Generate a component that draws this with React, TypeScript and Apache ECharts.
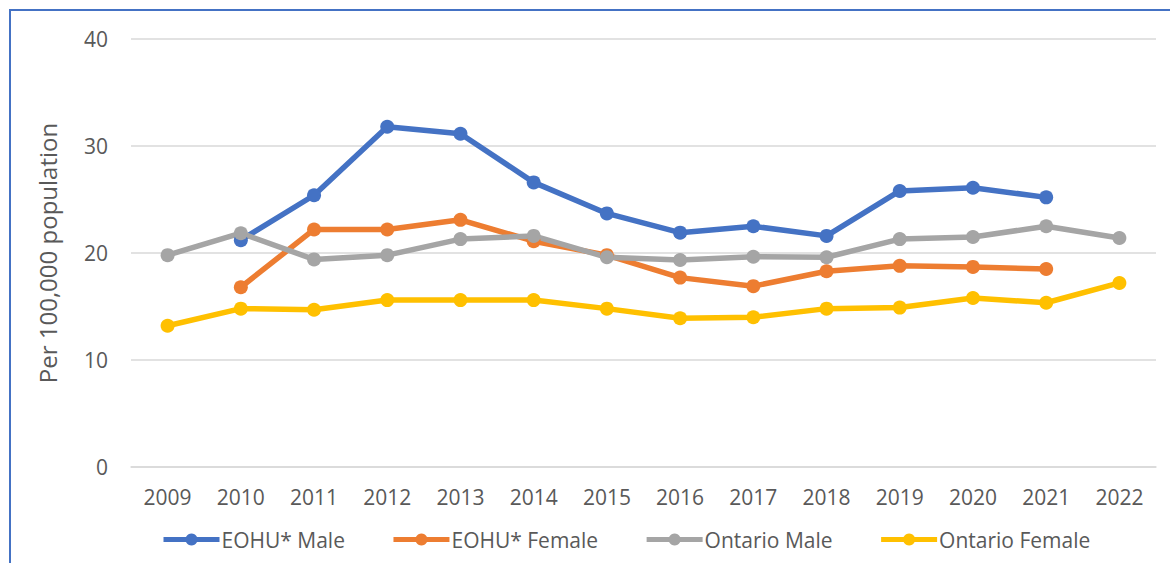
import React, { useEffect, useRef } from "react";
import * as echarts from "echarts";

const years = ["2009","2010","2011","2012","2013","2014","2015","2016","2017","2018","2019","2020","2021","2022"];
const eohuMale = [null, 21.2, 25.4, 31.8, 31.15, 26.6, 23.7, 21.9, 22.5, 21.6, 25.8, 26.1, 25.2, null];
const eohuFemale = [null, 16.8, 22.2, 22.2, 23.1, 21.1, 19.8, 17.7, 16.9, 18.3, 18.8, 18.7, 18.5, null];
const ontarioMale = [19.8, 21.85, 19.4, 19.8, 21.3, 21.6, 19.6, 19.35, 19.65, 19.6, 21.3, 21.5, 22.5, 21.4];
const ontarioFemale = [13.2, 14.8, 14.7, 15.6, 15.6, 15.6, 14.8, 13.9, 14.0, 14.8, 14.9, 15.8, 15.35, 17.2];
const seriesNames = ["EOHU* Male", "EOHU* Female", "Ontario Male", "Ontario Female"];
const colors = ["#4472C4", "#ED7D31", "#A5A5A5", "#FFC000"];
const yTicks = [0, 10, 20, 30, 40];

const FONT = "'Open Sans', sans-serif";

export default function App() {
  const ref = useRef<HTMLDivElement>(null);
  useEffect(() => {
    document.body.style.margin = "0";
    if (!ref.current) return;
    const chart = echarts.init(ref.current, null, { renderer: "svg" });
    const data = [eohuMale, eohuFemale, ontarioMale, ontarioFemale];
    chart.setOption({
      animation: false,
      backgroundColor: "#ffffff",
      color: colors,
      graphic: [
        {
          type: "rect",
          shape: { x: 10, y: 10, width: 1180, height: 580 },
          style: { fill: "none", stroke: "#4472C4", lineWidth: 2 },
          silent: true,
        },
      ],
      grid: { left: 131, right: 14, top: 39, bottom: 96, containLabel: false },
      legend: {
        left: 156,
        top: 524,
        itemWidth: 56,
        itemHeight: 15,
        itemGap: 46,
        data: seriesNames,
        lineStyle: { width: 5 },
        textStyle: { fontFamily: FONT, fontSize: 21, color: "#595959", padding: [0, 0, 0, -3] },
      },
      xAxis: {
        type: "category",
        data: years,
        boundaryGap: true,
        axisLine: { show: true, lineStyle: { color: "#D9D9D9", width: 1.5 } },
        axisTick: { show: false },
        axisLabel: { fontFamily: FONT, fontSize: 21, color: "#595959", margin: 19 },
      },
      yAxis: {
        type: "value",
        min: yTicks[0],
        max: yTicks[yTicks.length - 1],
        interval: 10,
        name: "Per 100,000 population",
        nameLocation: "middle",
        nameGap: 72,
        nameRotate: 90,
        nameTextStyle: { fontFamily: FONT, fontSize: 24, color: "#595959" },
        axisLine: { show: false },
        axisTick: { show: false },
        axisLabel: { fontFamily: FONT, fontSize: 21, color: "#595959", margin: 23 },
        splitLine: { lineStyle: { color: "#D9D9D9", width: 1.5 } },
      },
      series: seriesNames.map((name, i) => ({
        name,
        type: "line",
        data: data[i],
        symbol: "circle",
        symbolSize: 14,
        lineStyle: { width: 5.5, color: colors[i] },
        itemStyle: { color: colors[i] },
        connectNulls: false,
      })),
    });
    return () => chart.dispose();
  }, []);
  return <div ref={ref} style={{ width: 1170, height: 563 }} />;
}
